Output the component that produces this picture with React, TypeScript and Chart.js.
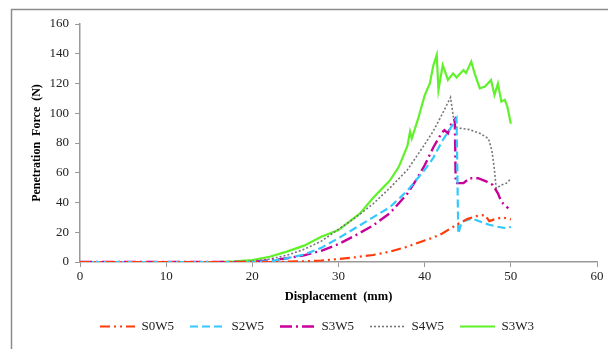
import React, { useEffect, useRef } from "react";
import { Chart, registerables } from "chart.js";

Chart.register(...registerables);

const seriesNames = ["S0W5", "S2W5", "S3W5", "S4W5", "S3W3"];

const s0w5X = [0, 10, 20, 23, 26, 28, 30, 32, 34, 36, 38, 40, 41, 42, 43, 44, 45, 46, 47, 47.5, 48, 49, 50];
const s0w5Y = [0, 0, 0, 0, 0.5, 1, 2, 3.2, 4.7, 7, 10.3, 14.5, 16.5, 19, 22.6, 26, 29, 30.9, 31.6, 27.5, 28.5, 30, 28.7];

const s2w5X = [0, 10, 20, 22, 24, 26, 28, 30, 32, 34, 36, 38, 40, 41, 42, 43, 43.7, 43.9, 44.3, 45, 45.6, 46.5, 47.5, 48.5, 49.5, 50];
const s2w5Y = [0, 0, 0, 0.5, 2.5, 5, 9.5, 16, 23, 30, 37, 48, 62, 70, 81, 90, 96.6, 19, 27, 28.5, 29, 27, 25, 23.7, 22.6, 23.7];

const s3w5X = [0, 10, 20, 21.5, 24, 26, 28, 30, 32, 34, 36, 38, 39, 40, 41, 42, 42.3, 42.7, 43.1, 43.5, 43.6, 44.5, 45.2, 46.2, 47.2, 47.9, 48.5, 48.9, 49.7];
const s3w5Y = [0, 0, 0, 0.8, 2.5, 4.5, 7.5, 12, 18, 24.5, 33, 46, 55, 65, 77, 87, 88.7, 86.5, 93.2, 96, 53, 53, 56.3, 56.3, 54, 51.8, 46.2, 40.5, 36.1];

const s4w5X = [0, 10, 18, 20, 22, 24, 26, 28, 30, 32, 34, 36, 38, 40, 41, 42, 43, 43.5, 44.1, 45.2, 46.4, 47.4, 47.8, 48.1, 48.3, 48.9, 49.5, 50];
const s4w5Y = [0, 0, 0, 0.5, 2, 4.5, 8.5, 14, 22, 30, 39, 50, 62, 79, 88, 99, 110.7, 91, 90, 89, 86.5, 83, 75, 61.8, 49.5, 51.8, 53, 56];

const s3w3X = [0, 10, 16, 18, 20, 22, 24, 26, 28, 30, 31, 32.5, 34, 35, 36, 37, 38, 38.3, 38.5, 39.2, 40, 40.6, 41, 41.4, 41.6, 42.1, 42.7, 43.3, 43.7, 44.5, 44.8, 45.4, 45.8, 46.4, 47, 47.7, 48.1, 48.5, 48.9, 49.3, 49.6, 50];
const s3w3Y = [0, 0, 0, 0.5, 1.3, 3.5, 7, 11, 17, 21.5, 26, 32.7, 43, 49, 55, 64, 78, 87.6, 83, 95.5, 112, 120, 132, 139.2, 115.6, 132.4, 122.4, 126.8, 124, 129, 127, 134.7, 126.8, 116.8, 118, 122.4, 112.3, 120, 107.8, 109, 104.4, 93];

const xTicks = [0, 10, 20, 30, 40, 50, 60];
const yTicks = [0, 20, 40, 60, 80, 100, 120, 140, 160];

const colors = ["#ff3b0a", "#33c8ff", "#c8009a", "#777777", "#5ff22a"];
const dashes = [[10, 4, 2, 4, 2, 4], [8, 4], [12, 4, 2, 4], [2, 2], []];
const widths = [2.2, 2.2, 2.4, 1.6, 2.2];

const frame = {
  id: "frame",
  beforeDraw(chart: any) {
    const ctx = chart.ctx;
    ctx.save();
    ctx.strokeStyle = "#8c8c8c";
    ctx.lineWidth = 1.5;
    ctx.beginPath();
    ctx.moveTo(11.5, chart.height);
    ctx.lineTo(11.5, 9.5);
    ctx.lineTo(chart.width, 9.5);
    ctx.stroke();
    ctx.restore();
  },
};

export default function App() {
  const ref = useRef<HTMLCanvasElement>(null);
  useEffect(() => {
    const xs = [s0w5X, s2w5X, s3w5X, s4w5X, s3w3X];
    const ys = [s0w5Y, s2w5Y, s3w5Y, s4w5Y, s3w3Y];
    const datasets = seriesNames.map((name, i) => ({
      label: name,
      data: xs[i].map((x, j) => ({ x, y: ys[i][j] })),
      borderColor: colors[i],
      backgroundColor: colors[i],
      borderWidth: widths[i],
      borderDash: dashes[i],
      pointRadius: 0,
      tension: 0,
      fill: false,
    }));
    const serif = "'Liberation Serif', 'Times New Roman', serif";
    const tickFont = { family: serif, size: 13 };
    const baseLabels = (Chart as any).defaults.plugins.legend.labels.generateLabels;
    const chart = new Chart(ref.current!, {
      type: "line",
      data: { datasets },
      plugins: [frame],
      options: {
        animation: false,
        responsive: false,
        devicePixelRatio: 1,
        layout: { padding: { left: 26, right: 0, top: 24, bottom: 6 } },
        plugins: {
          tooltip: { enabled: false },
          legend: {
            position: "bottom",
            labels: {
              usePointStyle: true,
              pointStyle: "line",
              pointStyleWidth: 35,
              boxHeight: 13,
              padding: 16,
              color: "#222",
              font: tickFont,
              generateLabels: (c: any) =>
                baseLabels(c).map((item: any, i: number) => ({
                  ...item,
                  lineDash: dashes[i],
                  lineWidth: widths[i],
                  strokeStyle: colors[i],
                  fillStyle: colors[i],
                  pointStyle: "line",
                })),
            },
          },
        },
        scales: {
          x: {
            type: "linear",
            min: 0,
            max: 60,
            afterBuildTicks: (s: any) => { s.ticks = xTicks.map((v) => ({ value: v })); },
            afterFit: (s: any) => { s.height = 42; s.paddingRight = 11; },
            grid: { drawOnChartArea: false, drawTicks: true, tickLength: 5, color: "#999" },
            border: { display: true, color: "#999", width: 1.5 },
            ticks: { color: "#222", font: tickFont, padding: 2, maxRotation: 0 },
            title: {
              display: true,
              text: "Displacement  (mm)",
              color: "#000",
              font: { family: serif, size: 12.5, weight: "bold" },
              padding: { top: 0, bottom: 0 },
            },
          },
          y: {
            type: "linear",
            min: 0,
            max: 160,
            afterBuildTicks: (s: any) => { s.ticks = yTicks.map((v) => ({ value: v })); },
            afterFit: (s: any) => { s.width = 54; },
            grid: { drawOnChartArea: false, drawTicks: true, tickLength: 5, color: "#999" },
            border: { display: true, color: "#999", width: 1.5 },
            ticks: { color: "#222", font: tickFont, padding: 6 },
            title: {
              display: true,
              text: "Penetration  Force  (N)",
              color: "#000",
              font: { family: serif, size: 12, weight: "bold" },
              padding: { top: 4, bottom: 0 },
            },
          },
        },
      },
    });
    return () => chart.destroy();
  }, []);
  return (
    <div style={{ position: "fixed", left: 0, top: 0, width: 608, height: 349, overflow: "hidden", background: "#fff" }}>
      <canvas ref={ref} width={608} height={349} style={{ display: "block" }} />
    </div>
  );
}
